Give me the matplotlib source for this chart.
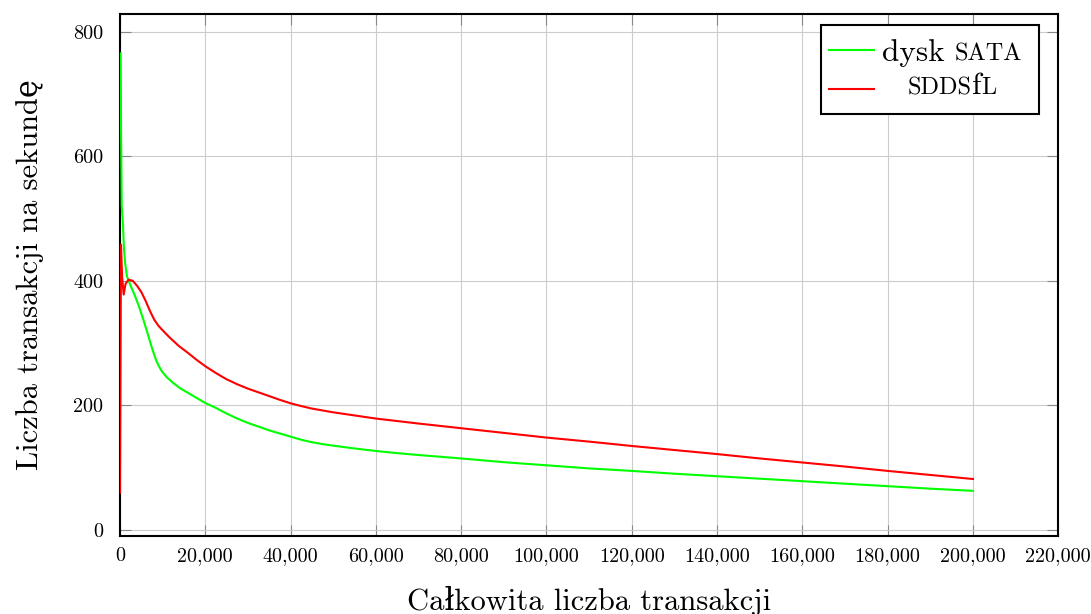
import matplotlib
matplotlib.use("Agg")
import matplotlib.pyplot as plt
from matplotlib.ticker import FuncFormatter
from matplotlib.offsetbox import AnchoredOffsetbox, HPacker, VPacker, TextArea, DrawingArea
from matplotlib.lines import Line2D

plt.rcParams['font.family'] = ['cmr10', 'DejaVu Serif']
plt.rcParams['mathtext.fontset'] = 'cm'
plt.rcParams['axes.formatter.use_mathtext'] = True

# dysk SATA
sata_x = [150, 250, 400, 700, 900, 1200, 1640, 2500, 3500, 4500, 5500, 6500, 7500,
          8500, 9200, 9800, 11000, 12500, 14000, 16000, 18000, 20000, 22500, 25000,
          27500, 30000, 32500, 35000, 37500, 40000, 42500, 45000, 47500, 50000,
          55000, 60000, 65000, 70000, 80000, 90000, 100000, 110000, 120000, 130000,
          140000, 150000, 160000, 170000, 180000, 190000, 200000]
sata_y = [765, 640, 520, 490, 455, 428, 407, 392, 376, 358, 337, 315, 292,
          272, 262, 255, 245, 236, 228, 220, 212, 204, 196, 187,
          179, 172, 166, 160, 155, 150, 145, 141, 138, 135.5,
          131, 127, 123.5, 120.5, 115, 109, 104, 99, 95, 90.5,
          86.5, 82.5, 78.5, 74.5, 70.5, 66.5, 63]

# SDDSfL
sddsfl_x = [0, 230, 500, 860, 1300, 2000, 3000, 4000, 5000, 6000, 7000, 8000, 9000,
            9800, 11500, 13700, 16000, 18000, 20000, 22500, 25000, 27500, 30000,
            32500, 35000, 37500, 40000, 42500, 45000, 47500, 50000, 55000, 60000,
            65000, 70000, 80000, 90000, 100000, 110000, 120000, 130000, 140000,
            150000, 160000, 170000, 180000, 190000, 200000]
sddsfl_y = [60, 458, 405, 378, 395, 402, 400, 392, 382, 368, 352, 338, 328,
            322, 310, 296, 284, 273, 263, 252, 242, 234, 227,
            221, 215, 209, 203.5, 199, 195, 192, 189, 184, 179,
            175, 171, 163.5, 156, 148.5, 142, 135, 128.5, 122,
            115, 108.5, 102, 95, 88.5, 82]

x_ticks = list(range(0, 220001, 20000))
y_ticks = [0, 200, 400, 600, 800]

GREEN = '#00ff00'
RED = '#ff0000'

fig = plt.figure(figsize=(10.91, 6.14), dpi=100)
ax = fig.add_axes([0.110, 0.1275, 0.860, 0.8495])

ax.plot(sata_x, sata_y, color=GREEN, lw=1.5, zorder=3)
ax.plot(sddsfl_x, sddsfl_y, color=RED, lw=1.5, zorder=3)

ax.set_xlim(0, 220000)
ax.set_ylim(-9, 828)
ax.set_xticks(x_ticks)
ax.set_yticks(y_ticks)
ax.xaxis.set_major_formatter(FuncFormatter(lambda v, p: f"{v:,.0f}"))
ax.yaxis.set_major_formatter(FuncFormatter(lambda v, p: f"{v:.0f}"))
ax.grid(True, color='#cccccc', lw=0.8, zorder=0)
ax.tick_params(direction='in', length=8, width=0.8, color='#888888',
               top=True, right=True, labelsize=14.5)
ax.tick_params(axis='x', pad=8)
ax.tick_params(axis='y', pad=12)
for s in ax.spines.values():
    s.set_linewidth(1.5)
    s.set_color('black')

ax.set_xlabel('Całkowita liczba transakcji', fontsize=22, labelpad=15)
ax.set_ylabel('Liczba transakcji na sekundę', fontsize=22, labelpad=21)

# legend with small caps imitation
big, small = 22.5, 17.5


def label_parts(parts):
    boxes = [TextArea(t, textprops=dict(fontsize=fs)) for t, fs in parts]
    return HPacker(children=boxes, align='baseline', pad=0, sep=0)


def line_box(color):
    da = DrawingArea(32, 24, 0, 0)
    da.add_artist(Line2D([0, 32], [12, 12], color=color, lw=1.5))
    return da


lines_col = VPacker(children=[line_box(GREEN), line_box(RED)], align='center', pad=0, sep=4)
text_col = VPacker(children=[label_parts([('dysk ', big), ('SATA', small)]),
                             label_parts([('SDDS', small), ('f', big), ('L', small)])],
                   align='center', pad=0, sep=4)
content = HPacker(children=[lines_col, text_col, DrawingArea(0, 10, 0, 0)],
                  align='center', pad=0, sep=6)
leg = AnchoredOffsetbox(loc='upper right', child=content, pad=0.6, borderpad=0,
                        frameon=True, bbox_to_anchor=(0.9526, 0.9593),
                        bbox_transform=fig.transFigure)
leg.patch.set_boxstyle('square', pad=0)
leg.patch.set_edgecolor('black')
leg.patch.set_linewidth(1.5)
leg.set_zorder(5)
ax.add_artist(leg)

fig.savefig('out.png', dpi=100)
